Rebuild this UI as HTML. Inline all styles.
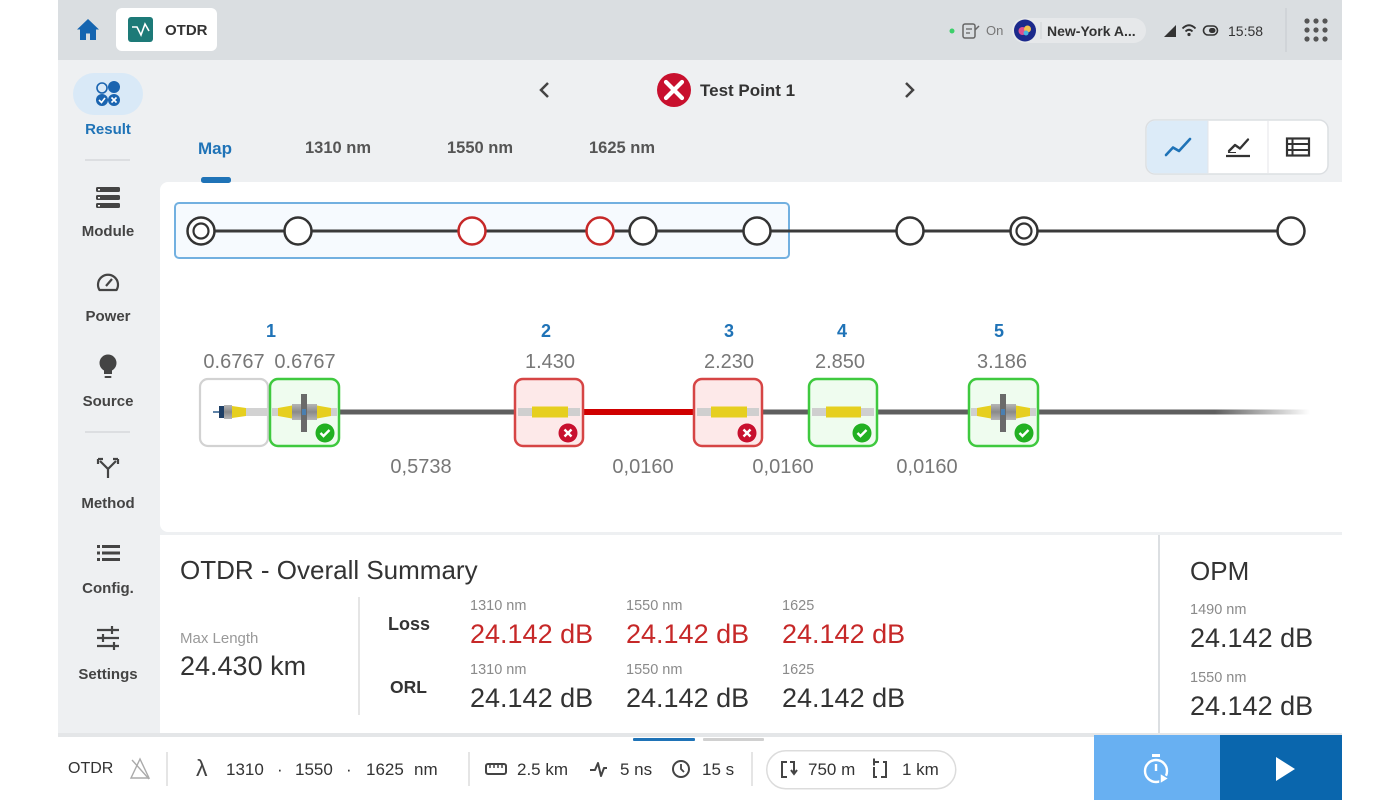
<!DOCTYPE html>
<html><head><meta charset="utf-8">
<style>
*{margin:0;padding:0;box-sizing:border-box}
html,body{width:1400px;height:800px;overflow:hidden;background:#fff;font-family:"Liberation Sans",Arial,sans-serif}
svg{position:absolute;left:0;top:0}
.t{position:absolute;white-space:nowrap;line-height:1}
.c{transform:translateX(-50%)}
.b{font-weight:bold}
.sb{font-size:15px;color:#444;font-weight:bold}
.ev{font-size:18px;color:#1f73b7;font-weight:bold}
.val{font-size:20px;color:#777}
.sm{font-size:14.5px;color:#8a8a8a}
.big{font-size:27px;color:#333}
.red{color:#c62828}
.bt{font-size:17px;color:#333}
</style></head><body>
<svg width="1400" height="800" xmlns="http://www.w3.org/2000/svg">
<defs>
<linearGradient id="fade" x1="0" x2="1" y1="0" y2="0">
<stop offset="0" stop-color="#5f5f5f"/><stop offset="0.65" stop-color="#5f5f5f"/><stop offset="1" stop-color="#5f5f5f" stop-opacity="0"/>
</linearGradient>
<linearGradient id="gblk" x1="0" x2="0" y1="0" y2="1">
<stop offset="0" stop-color="#b5b5b5"/><stop offset="0.5" stop-color="#8a8a8a"/><stop offset="1" stop-color="#b5b5b5"/>
</linearGradient>
</defs>
<!-- backgrounds -->
<rect x="58" y="0" width="1284" height="60" fill="#dadee1"/>
<rect x="58" y="60" width="1284" height="740" fill="#eef0f2"/>
<rect x="160" y="182" width="1190" height="350" rx="8" fill="#fff"/>
<rect x="160" y="535" width="998" height="198" fill="#fff"/>
<rect x="1160" y="535" width="182" height="198" fill="#fff"/>
<rect x="58" y="733" width="1284" height="4" fill="#e4e6e8"/>
<rect x="58" y="737" width="1284" height="63" fill="#fff"/>

<!-- top bar -->
<path d="M88,19 L77,29.5 L80,29.5 L80,40 L86,40 L86,33.5 L90,33.5 L90,40 L96,40 L96,29.5 L99,29.5 Z" fill="#1565b0"/>
<rect x="116" y="8" width="101" height="43" rx="6" fill="#fff"/>
<rect x="128" y="17" width="25" height="25" rx="3" fill="#1d7a78"/>
<polyline points="132,27 137,27 141,35 145,24 149,31" fill="none" stroke="#fff" stroke-width="1.6"/>
<circle cx="952" cy="31" r="2.5" fill="#3ccf6a"/>
<rect x="963" y="24" width="12" height="14" rx="2" fill="none" stroke="#666" stroke-width="1.5"/>
<line x1="966" y1="29" x2="972" y2="29" stroke="#666" stroke-width="1.3"/>
<line x1="966" y1="33" x2="970" y2="33" stroke="#666" stroke-width="1.3"/>
<path d="M975,30 L979,26" stroke="#666" stroke-width="1.5"/>
<rect x="1012" y="18" width="134" height="25" rx="12.5" fill="#e6e8ea"/>
<circle cx="1025" cy="30.5" r="11" fill="#1c2a8c"/>
<circle cx="1022.5" cy="31" r="4" fill="#e0508f"/>
<circle cx="1027.5" cy="29" r="3.5" fill="#f2c14e"/>
<circle cx="1026" cy="33" r="2.5" fill="#48b7e0"/>
<line x1="1041" y1="22" x2="1041" y2="39" stroke="#d0d3d6" stroke-width="1"/>
<path d="M1164,37 L1176,25 L1176,37 Z" fill="#333"/>
<path d="M1182.5,28.5 Q1189,22 1195.5,28.5" fill="none" stroke="#333" stroke-width="1.8"/>
<path d="M1185.5,31.5 Q1189,28 1192.5,31.5" fill="none" stroke="#333" stroke-width="1.8"/>
<circle cx="1189" cy="34.5" r="1.6" fill="#333"/>
<rect x="1203.5" y="26" width="14" height="9" rx="4.5" fill="none" stroke="#333" stroke-width="1.6"/>
<rect x="1209" y="28" width="6.5" height="5" rx="2.5" fill="#333"/>
<line x1="1286" y1="8" x2="1286" y2="52" stroke="#cdd1d4" stroke-width="1.5"/>
<g fill="#555">
<circle cx="1307" cy="21" r="2.6"/><circle cx="1316" cy="21" r="2.6"/><circle cx="1325" cy="21" r="2.6"/>
<circle cx="1307" cy="30" r="2.6"/><circle cx="1316" cy="30" r="2.6"/><circle cx="1325" cy="30" r="2.6"/>
<circle cx="1307" cy="39" r="2.6"/><circle cx="1316" cy="39" r="2.6"/><circle cx="1325" cy="39" r="2.6"/>
</g>

<!-- sidebar -->
<rect x="73" y="73" width="70" height="42" rx="21" fill="#d9e9f7"/>
<g fill="#1a64b0" stroke="#1a64b0">
<circle cx="102" cy="88" r="5" fill="none" stroke-width="1.6"/>
<circle cx="114" cy="87" r="6" stroke="none"/>
<circle cx="102" cy="100" r="6" stroke="none"/>
<circle cx="114" cy="100" r="6" stroke="none"/>
</g>
<path d="M99,100 L101.5,102.5 L105,98" fill="none" stroke="#fff" stroke-width="1.6"/>
<path d="M111.5,97.5 L116.5,102.5 M116.5,97.5 L111.5,102.5" stroke="#fff" stroke-width="1.6"/>
<line x1="85" y1="160" x2="130" y2="160" stroke="#d5d8db" stroke-width="1.5"/>
<g fill="#444">
<rect x="96" y="187" width="24" height="5" rx="1.5"/>
<rect x="96" y="195" width="24" height="5" rx="1.5"/>
<rect x="96" y="203" width="24" height="5" rx="1.5"/>
</g>
<g fill="#fff"><rect x="98" y="189" width="2" height="1.5"/><rect x="98" y="197" width="2" height="1.5"/><rect x="98" y="205" width="2" height="1.5"/></g>
<path d="M99.5,290 A10,10 0 1 1 116.5,290 Z" fill="none" stroke="#444" stroke-width="2.2" stroke-linejoin="round"/>
<line x1="106" y1="286" x2="112" y2="279" stroke="#444" stroke-width="2.2"/>
<circle cx="108" cy="363" r="8.5" fill="#444"/>
<rect x="104" y="370" width="8" height="4" fill="#444"/>
<rect x="104.5" y="376" width="7" height="2" rx="1" fill="#444"/>
<line x1="85" y1="432" x2="130" y2="432" stroke="#d5d8db" stroke-width="1.5"/>
<path d="M108,478 L108,469 L100,461 M108,469 L116,461" fill="none" stroke="#444" stroke-width="2.2"/>
<path d="M98,459 L103,459 M98,459 L98,464" stroke="#444" stroke-width="2.2"/>
<path d="M118,459 L113,459 M118,459 L118,464" stroke="#444" stroke-width="2.2"/>
<g fill="#444">
<rect x="97" y="545" width="3" height="3"/><rect x="102" y="545" width="18" height="3"/>
<rect x="97" y="551.5" width="3" height="3"/><rect x="102" y="551.5" width="18" height="3"/>
<rect x="97" y="558" width="3" height="3"/><rect x="102" y="558" width="18" height="3"/>
</g>
<g stroke="#444" stroke-width="2.2">
<line x1="97" y1="630" x2="119" y2="630"/><line x1="97" y1="638" x2="119" y2="638"/><line x1="97" y1="646" x2="119" y2="646"/>
<line x1="112" y1="626" x2="112" y2="634"/><line x1="103" y1="634" x2="103" y2="642"/><line x1="114" y1="642" x2="114" y2="650"/>
</g>

<!-- nav -->
<path d="M548,83 L541,90 L548,97" fill="none" stroke="#444" stroke-width="2.5"/>
<path d="M906,83 L913,90 L906,97" fill="none" stroke="#444" stroke-width="2.5"/>
<circle cx="674" cy="90" r="17" fill="#c8102e"/>
<path d="M666,82 L682,98 M682,82 L666,98" stroke="#fff" stroke-width="4.2" stroke-linecap="round"/>

<!-- tab underline -->
<rect x="201" y="177" width="30" height="6" rx="2.5" fill="#1f73b7"/>

<!-- toggle group -->
<rect x="1146" y="120" width="182" height="54" rx="9" fill="#fff" stroke="#dcdfe2" stroke-width="1.5"/>
<path d="M1155,120.75 L1208,120.75 L1208,173.25 L1155,173.25 A8.25,8.25 0 0 1 1146.75,165 L1146.75,129 A8.25,8.25 0 0 1 1155,120.75 Z" fill="#dcebf8"/>
<line x1="1208" y1="121" x2="1208" y2="173" stroke="#e4e6e8" stroke-width="1"/>
<line x1="1268" y1="121" x2="1268" y2="173" stroke="#e4e6e8" stroke-width="1"/>
<polyline points="1166,155 1173,147.5 1179,151 1190,139" fill="none" stroke="#1f73b7" stroke-width="2.6" stroke-linejoin="round" stroke-linecap="round"/>
<polyline points="1229,151 1235,145 1240,148.5 1248,139.5" fill="none" stroke="#333" stroke-width="2.3" stroke-linejoin="round" stroke-linecap="round"/>
<line x1="1226" y1="156" x2="1250" y2="156" stroke="#333" stroke-width="2.3"/>
<line x1="1228" y1="152.5" x2="1236" y2="152.5" stroke="#333" stroke-width="1"/>
<rect x="1287" y="138.5" width="22" height="17" fill="none" stroke="#333" stroke-width="2.2"/>
<line x1="1287" y1="144" x2="1309" y2="144" stroke="#333" stroke-width="2"/>
<line x1="1287" y1="150" x2="1309" y2="150" stroke="#333" stroke-width="2"/>
<line x1="1292.5" y1="138.5" x2="1292.5" y2="155.5" stroke="#333" stroke-width="2"/>

<!-- overview map -->
<rect x="175" y="203" width="614" height="55" rx="4" fill="#f6fafe" stroke="#72b0e0" stroke-width="2"/>
<line x1="201" y1="231" x2="1291" y2="231" stroke="#3a3a3a" stroke-width="3"/>
<g fill="#fff" stroke="#333" stroke-width="2.5">
<circle cx="201" cy="231" r="13.5"/>
<circle cx="298" cy="231" r="13.5"/>
<circle cx="643" cy="231" r="13.5"/>
<circle cx="757" cy="231" r="13.5"/>
<circle cx="910" cy="231" r="13.5"/>
<circle cx="1024" cy="231" r="13.5"/>
<circle cx="1291" cy="231" r="13.5"/>
</g>
<g fill="#fff" stroke="#c62828" stroke-width="2.5">
<circle cx="472" cy="231" r="13.5"/>
<circle cx="600" cy="231" r="13.5"/>
</g>
<circle cx="201" cy="231" r="7.5" fill="none" stroke="#333" stroke-width="2.2"/>
<circle cx="1024" cy="231" r="7.5" fill="none" stroke="#333" stroke-width="2.2"/>

<!-- fiber lines -->
<rect x="339" y="409.5" width="176" height="5" fill="#5f5f5f"/>
<rect x="583" y="409" width="111" height="6" fill="#d00000"/>
<rect x="762" y="409.5" width="47" height="5" fill="#5f5f5f"/>
<rect x="877" y="409.5" width="92" height="5" fill="#5f5f5f"/>
<rect x="1038" y="409.5" width="272" height="5" fill="url(#fade)"/>

<!-- box0 launch -->
<rect x="200" y="379" width="68" height="67" rx="8" fill="#fff" stroke="#d2d2d2" stroke-width="2.2"/>
<rect x="222" y="408" width="46" height="8" fill="#d2d2d2"/>
<line x1="213" y1="412" x2="222" y2="412" stroke="#2a5a8a" stroke-width="1.5"/>
<rect x="219" y="406" width="5" height="12" fill="#1e3f66"/>
<rect x="224" y="405" width="8" height="14" fill="url(#gblk)"/>
<path d="M232,406 L246,408 L246,416 L232,418 Z" fill="#e6cf1f"/>

<!-- box1 adapter -->
<rect x="270" y="379" width="69" height="67" rx="8" fill="#effcef" stroke="#3fc93f" stroke-width="2.5"/>
<rect x="272" y="408" width="65" height="8" fill="#cfcfcf"/>
<path d="M278,408 L292,405.5 L292,418.5 L278,416 Z" fill="#e6cf1f"/>
<path d="M331,408 L317,405.5 L317,418.5 L331,416 Z" fill="#e6cf1f"/>
<rect x="292" y="404" width="25" height="16" fill="url(#gblk)"/>
<rect x="301" y="394" width="6" height="38" fill="#6a6a6a"/>
<rect x="302" y="409" width="4" height="6" fill="#4a7fb0"/>
<circle cx="325" cy="433" r="9.5" fill="#22b022"/>
<path d="M320.5,433 L323.5,436 L329.5,430" fill="none" stroke="#fff" stroke-width="2.4"/>

<!-- box2 -->
<rect x="515" y="379" width="68" height="67" rx="8" fill="#fde9e9" stroke="#d64545" stroke-width="2.5"/>
<rect x="518" y="408" width="62" height="8" fill="#cfcfcf"/>
<rect x="532" y="406.5" width="36" height="11" fill="#e6cf1f"/>
<circle cx="568" cy="433" r="9.5" fill="#c8102e"/>
<path d="M564.5,429.5 L571.5,436.5 M571.5,429.5 L564.5,436.5" stroke="#fff" stroke-width="2.4"/>

<!-- box3 -->
<rect x="694" y="379" width="68" height="67" rx="8" fill="#fde9e9" stroke="#d64545" stroke-width="2.5"/>
<rect x="697" y="408" width="62" height="8" fill="#cfcfcf"/>
<rect x="711" y="406.5" width="36" height="11" fill="#e6cf1f"/>
<circle cx="747" cy="433" r="9.5" fill="#c8102e"/>
<path d="M743.5,429.5 L750.5,436.5 M750.5,429.5 L743.5,436.5" stroke="#fff" stroke-width="2.4"/>

<!-- box4 -->
<rect x="809" y="379" width="68" height="67" rx="8" fill="#effcef" stroke="#3fc93f" stroke-width="2.5"/>
<rect x="812" y="408" width="62" height="8" fill="#cfcfcf"/>
<rect x="826" y="406.5" width="35" height="11" fill="#e6cf1f"/>
<circle cx="862" cy="433" r="9.5" fill="#22b022"/>
<path d="M857.5,433 L860.5,436 L866.5,430" fill="none" stroke="#fff" stroke-width="2.4"/>

<!-- box5 adapter -->
<rect x="969" y="379" width="69" height="67" rx="8" fill="#effcef" stroke="#3fc93f" stroke-width="2.5"/>
<rect x="971" y="408" width="65" height="8" fill="#cfcfcf"/>
<path d="M977,408 L991,405.5 L991,418.5 L977,416 Z" fill="#e6cf1f"/>
<path d="M1030,408 L1016,405.5 L1016,418.5 L1030,416 Z" fill="#e6cf1f"/>
<rect x="991" y="404" width="25" height="16" fill="url(#gblk)"/>
<rect x="1000" y="394" width="6" height="38" fill="#6a6a6a"/>
<rect x="1001" y="409" width="4" height="6" fill="#4a7fb0"/>
<circle cx="1024" cy="433" r="9.5" fill="#22b022"/>
<path d="M1019.5,433 L1022.5,436 L1028.5,430" fill="none" stroke="#fff" stroke-width="2.4"/>

<!-- summary dividers -->
<line x1="359" y1="597" x2="359" y2="715" stroke="#dcdcdc" stroke-width="1.5"/>
<line x1="1159" y1="535" x2="1159" y2="733" stroke="#dcdfe2" stroke-width="2"/>

<!-- bottom bar -->
<rect x="633" y="738" width="62" height="3" rx="1" fill="#1f73b7"/>
<rect x="703" y="738" width="61" height="3" rx="1" fill="#d0d0d0"/>
<line x1="167" y1="752" x2="167" y2="786" stroke="#dcdcdc" stroke-width="1.5"/>
<line x1="469" y1="752" x2="469" y2="786" stroke="#dcdcdc" stroke-width="1.5"/>
<line x1="752" y1="752" x2="752" y2="786" stroke="#dcdcdc" stroke-width="1.5"/>
<path d="M140,759 L131,778 L149,778 Z" fill="none" stroke="#aaa" stroke-width="1.4"/>
<line x1="132" y1="760" x2="149" y2="779" stroke="#aaa" stroke-width="1.4"/>
<rect x="486" y="764" width="20" height="10" rx="2" fill="none" stroke="#444" stroke-width="2"/>
<path d="M490,764 L490,768 M494,764 L494,768 M498,764 L498,768 M502,764 L502,768" stroke="#444" stroke-width="1.5"/>
<polyline points="590,770 595,770 598,763 601,776 604,768 607,768" fill="none" stroke="#444" stroke-width="2" stroke-linejoin="round"/>
<circle cx="681" cy="769" r="8" fill="none" stroke="#444" stroke-width="2"/>
<path d="M681,764 L681,769 L684,772" fill="none" stroke="#444" stroke-width="1.8"/>
<rect x="766.75" y="750.75" width="189" height="38" rx="19" fill="#fff" stroke="#dcdcdc" stroke-width="1.5"/>
<path d="M787,762 L782,762 L782,777 L787,777 M790,762 L794,762 L794,773 M791,770 L794,774 L797,770" fill="none" stroke="#444" stroke-width="2"/>
<path d="M879,762 L874,762 M874,758.5 L874,765.5 M881,777 L886,777 L886,762 L883,762 M874,767 L874,777 L877,777" fill="none" stroke="#444" stroke-width="2"/>
<rect x="1094" y="735" width="126" height="65" fill="#68b0f2"/>
<rect x="1220" y="735" width="122" height="65" fill="#0a66ad"/>
<circle cx="1156" cy="771" r="11" fill="none" stroke="#fff" stroke-width="2.4"/>
<rect x="1152" y="754" width="8" height="3" fill="#fff"/>
<line x1="1156" y1="764" x2="1156" y2="771" stroke="#fff" stroke-width="2.4"/>
<path d="M1160,773 L1169,778.5 L1160,784 Z" fill="#fff" stroke="#68b0f2" stroke-width="1.5"/>
<path d="M1276,757 L1295,769 L1276,781 Z" fill="#fff"/>
</svg>

<!-- top bar text -->
<div class="t b" style="left:165px;top:22.5px;font-size:15px;color:#333">OTDR</div>
<div class="t" style="left:986px;top:24px;font-size:13px;color:#777">On</div>
<div class="t b" style="left:1047px;top:23.5px;font-size:14px;color:#333">New-York A...</div>
<div class="t" style="left:1228px;top:23.5px;font-size:14px;color:#333">15:58</div>

<!-- sidebar -->
<div class="t c sb" style="left:108px;top:121.5px;color:#1f73b7">Result</div>
<div class="t c sb" style="left:108px;top:223.5px">Module</div>
<div class="t c sb" style="left:108px;top:308.5px">Power</div>
<div class="t c sb" style="left:108px;top:393.5px">Source</div>
<div class="t c sb" style="left:108px;top:495.5px">Method</div>
<div class="t c sb" style="left:108px;top:580.5px">Config.</div>
<div class="t c sb" style="left:108px;top:666.5px">Settings</div>

<!-- nav & tabs -->
<div class="t b" style="left:700px;top:81.5px;font-size:17px;color:#333">Test Point 1</div>
<div class="t b" style="left:198px;top:139.5px;font-size:17px;color:#1f73b7">Map</div>
<div class="t b" style="left:305px;top:139.5px;font-size:16.5px;color:#555">1310 nm</div>
<div class="t b" style="left:447px;top:139.5px;font-size:16.5px;color:#555">1550 nm</div>
<div class="t b" style="left:589px;top:139.5px;font-size:16.5px;color:#555">1625 nm</div>

<!-- event labels -->
<div class="t c ev" style="left:271px;top:322px">1</div>
<div class="t c ev" style="left:546px;top:322px">2</div>
<div class="t c ev" style="left:729px;top:322px">3</div>
<div class="t c ev" style="left:842px;top:322px">4</div>
<div class="t c ev" style="left:999px;top:322px">5</div>
<div class="t c val" style="left:234px;top:352px">0.6767</div>
<div class="t c val" style="left:305px;top:352px">0.6767</div>
<div class="t c val" style="left:550px;top:352px">1.430</div>
<div class="t c val" style="left:729px;top:352px">2.230</div>
<div class="t c val" style="left:840px;top:352px">2.850</div>
<div class="t c val" style="left:1002px;top:352px">3.186</div>
<div class="t c val" style="left:421px;top:457px">0,5738</div>
<div class="t c val" style="left:643px;top:457px">0,0160</div>
<div class="t c val" style="left:783px;top:457px">0,0160</div>
<div class="t c val" style="left:927px;top:457px">0,0160</div>

<!-- summary -->
<div class="t" style="left:180px;top:557px;font-size:26px;color:#333">OTDR - Overall Summary</div>
<div class="t" style="left:180px;top:630.5px;font-size:15px;color:#999">Max Length</div>
<div class="t big" style="left:180px;top:652.5px">24.430 km</div>
<div class="t b" style="left:388px;top:615px;font-size:18px;color:#333">Loss</div>
<div class="t b" style="left:390px;top:679px;font-size:17.5px;color:#333">ORL</div>

<div class="t sm" style="left:470px;top:599px">1310 nm</div>
<div class="t big red" style="left:470px;top:620.5px">24.142 dB</div>
<div class="t sm" style="left:626px;top:599px">1550 nm</div>
<div class="t big red" style="left:626px;top:620.5px">24.142 dB</div>
<div class="t sm" style="left:782px;top:599px">1625</div>
<div class="t big red" style="left:782px;top:620.5px">24.142 dB</div>

<div class="t sm" style="left:470px;top:663px">1310 nm</div>
<div class="t big" style="left:470px;top:684.5px">24.142 dB</div>
<div class="t sm" style="left:626px;top:663px">1550 nm</div>
<div class="t big" style="left:626px;top:684.5px">24.142 dB</div>
<div class="t sm" style="left:782px;top:663px">1625</div>
<div class="t big" style="left:782px;top:684.5px">24.142 dB</div>

<div class="t" style="left:1190px;top:558px;font-size:26px;color:#333">OPM</div>
<div class="t sm" style="left:1190px;top:603px">1490 nm</div>
<div class="t big" style="left:1190px;top:624.5px">24.142 dB</div>
<div class="t sm" style="left:1190px;top:671px">1550 nm</div>
<div class="t big" style="left:1190px;top:692.5px">24.142 dB</div>

<!-- bottom bar text -->
<div class="t" style="left:68px;top:761px;font-size:16px;color:#333">OTDR</div>
<div class="t" style="left:196px;top:757px;font-size:23px;color:#444">λ</div>
<div class="t bt" style="left:226px;top:760.5px">1310</div>
<div class="t bt" style="left:277px;top:760.5px">·</div>
<div class="t bt" style="left:295px;top:760.5px">1550</div>
<div class="t bt" style="left:346px;top:760.5px">·</div>
<div class="t bt" style="left:366px;top:760.5px">1625</div>
<div class="t bt" style="left:414px;top:760.5px">nm</div>
<div class="t bt" style="left:517px;top:760.5px">2.5 km</div>
<div class="t bt" style="left:620px;top:760.5px">5 ns</div>
<div class="t bt" style="left:702px;top:760.5px">15 s</div>
<div class="t bt" style="left:808px;top:760.5px">750 m</div>
<div class="t bt" style="left:902px;top:760.5px">1 km</div>
</body></html>
